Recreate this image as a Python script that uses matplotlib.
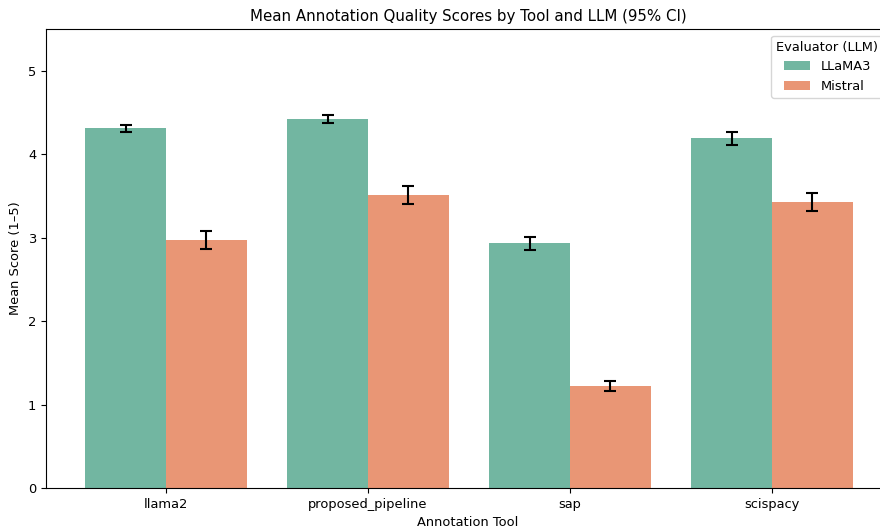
import numpy as np
import matplotlib
matplotlib.use("Agg")
import matplotlib.pyplot as plt

tools = ["llama2", "proposed_pipeline", "sap", "scispacy"]
evaluators = ["LLaMA3", "Mistral"]
llama3_mean = [4.31, 4.42, 2.93, 4.19]
llama3_err = [0.04, 0.05, 0.08, 0.08]
mistral_mean = [2.97, 3.51, 1.22, 3.43]
mistral_err = [0.11, 0.11, 0.06, 0.11]

colors = ["#72b6a1", "#e99675"]

plt.rcParams["font.size"] = 9.4

fig = plt.figure(figsize=(8.8, 5.3), dpi=100)
ax = fig.add_axes([46 / 880, 42 / 530, 844 / 880, 459 / 530])

x = np.arange(len(tools))
w = 0.4
ax.bar(x - w / 2, llama3_mean, width=w, color=colors[0], label=evaluators[0])
ax.bar(x + w / 2, mistral_mean, width=w, color=colors[1], label=evaluators[1])
ax.errorbar(x - w / 2, llama3_mean, yerr=llama3_err, fmt="none", ecolor="black",
            elinewidth=1.5, capsize=4.5, capthick=1.5)
ax.errorbar(x + w / 2, mistral_mean, yerr=mistral_err, fmt="none", ecolor="black",
            elinewidth=1.5, capsize=4.5, capthick=1.5)

ax.set_xticks(x)
ax.set_xticklabels(tools)
ax.set_xlim(-0.594, 3.584)
ax.set_ylim(0, 5.5)
ax.set_title("Mean Annotation Quality Scores by Tool and LLM (95% CI)", fontsize=10.8)
ax.set_xlabel("Annotation Tool")
ax.set_ylabel("Mean Score (1\u20135)")
ax.legend(title="Evaluator (LLM)", loc="upper right")

fig.savefig("out.png", dpi=100)
